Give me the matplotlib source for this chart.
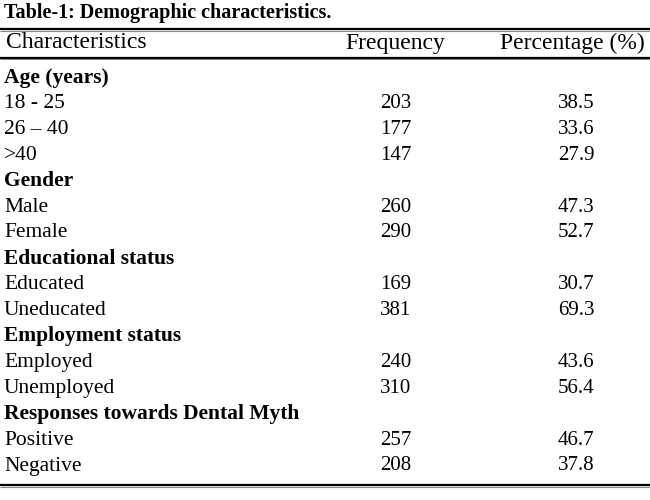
import matplotlib.pyplot as plt

# table content
title = "Table-1: Demographic characteristics."
headers = ["Characteristics", "Frequency", "Percentage (%)"]
row_labels = ["Age (years)", "18 - 25", "26 \u2013 40", ">40",
              "Gender", "Male", "Female",
              "Educational status", "Educated", "Uneducated",
              "Employment status", "Employed", "Unemployed",
              "Responses towards Dental Myth", "Positive", "Negative"]
frequency = ["", "203", "177", "147", "", "260", "290", "", "169", "381",
             "", "240", "310", "", "257", "208"]
percentage = ["", "38.5", "33.6", "27.9", "", "47.3", "52.7", "", "30.7", "69.3",
              "", "43.6", "56.4", "", "46.7", "37.8"]
is_group = [f == "" for f in frequency]

plt.rcParams['font.family'] = 'serif'
plt.rcParams['font.serif'] = ['Liberation Serif']

fig = plt.figure(figsize=(6.5, 5), dpi=100)
ax = fig.add_axes([0, 0, 1, 1])
ax.set_xlim(0, 650)
ax.set_ylim(500, 0)
ax.axis('off')

ax.text(4, 13, title, fontsize=14.5, fontweight='bold', va='center', ha='left')


def rule(y):
    ax.plot([0, 650], [y, y], color='black', lw=1.6, solid_capstyle='butt')
    ax.plot([0, 650], [y + 1.6, y + 1.6], color='#888888', lw=0.8, solid_capstyle='butt')


rule(29)
ax.text(6, 43, headers[0], fontsize=17, va='center', ha='left')
ax.text(395, 43, headers[1], fontsize=17, va='center', ha='center')
ax.text(572, 43, headers[2], fontsize=17, va='center', ha='center')
rule(57.5)

y0, dy = 77.5, 25.9
for i, label in enumerate(row_labels):
    y = y0 + i * dy
    ax.text(4, y, label, fontsize=15.5, va='center', ha='left',
            fontweight='bold' if is_group[i] else 'normal')
    ax.text(396, y, frequency[i], fontsize=15, va='center', ha='center')
    ax.text(576, y, percentage[i], fontsize=15, va='center', ha='center')

rule(485)

fig.savefig("out.png", dpi=100)
